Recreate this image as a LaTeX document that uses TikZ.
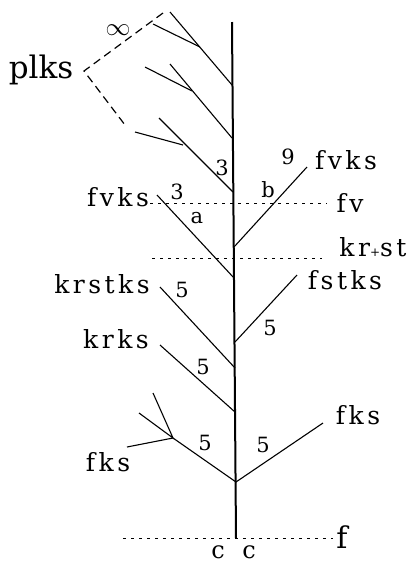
\documentclass[tikz,border=0pt]{standalone}
\usepackage{fontspec}
\setmainfont{DejaVu Serif}
\newfontfamily\lblfont[LetterSpace=14]{DejaVu Serif}
\begin{document}
\begin{tikzpicture}[x=1pt,y=-1pt,
  trunk/.style={line width=2pt},
  br/.style={line width=1.1pt},
  dotln/.style={line width=0.9pt,dash pattern=on 3pt off 5pt},
  dashln/.style={line width=1.2pt,dash pattern=on 8pt off 5pt},
  lbl/.style={inner sep=0pt,font=\fontsize{25}{25}\lblfont},
  num/.style={inner sep=0pt,font=\fontsize{21}{21}\selectfont},
]
\useasboundingbox (0,0) rectangle (415,566);
% trunk
\coordinate (T) at (232,22);
\coordinate (Tb) at (236,538);
\draw[trunk] (T) -- (Tb);
% top branches
\coordinate (J1) at (232,85);  \coordinate (E1) at (170,12);
\coordinate (F1) at (200,47);  \coordinate (S1) at (153,24);
\coordinate (J2) at (232,138); \coordinate (E2) at (170,64);
\coordinate (F2) at (192,91);  \coordinate (S2) at (145,67);
\coordinate (J3) at (233,192); \coordinate (E3) at (159,118);
\coordinate (F3) at (183,145); \coordinate (S3) at (135,132);
\draw[br] (J1) -- (E1); \draw[br] (F1) -- (S1);
\draw[br] (J2) -- (E2); \draw[br] (F2) -- (S2);
\draw[br] (J3) -- (E3); \draw[br] (F3) -- (S3);
% dashed bracket
\coordinate (D1) at (163,13);
\coordinate (D2) at (84,71);
\coordinate (D3) at (125,125);
\draw[dashln] (D1) -- (D2) -- (D3);
% b and a branches
\coordinate (Jb) at (234,247); \coordinate (Eb) at (307,167);
\coordinate (Ea) at (157,195); \coordinate (Ja) at (234,278);
\draw[br] (Jb) -- (Eb);
\draw[br] (Ea) -- (Ja);
% middle branches
\coordinate (Jfs) at (235,342); \coordinate (Efs) at (297,275);
\coordinate (Ekrs) at (160,287); \coordinate (Jkrs) at (235,368);
\coordinate (Ekr) at (160,345); \coordinate (Jkr) at (235,412);
\draw[br] (Jfs) -- (Efs);
\draw[br] (Ekrs) -- (Jkrs);
\draw[br] (Ekr) -- (Jkr);
% bottom V
\coordinate (V) at (236,482);
\coordinate (L) at (173,438);
\coordinate (L1) at (139,413);
\coordinate (L2) at (153,393);
\coordinate (L3) at (127,447);
\coordinate (R) at (323,423);
\draw[br] (L) -- (V) -- (R);
\draw[br] (L1) -- (L) -- (L2);
\draw[br] (L) -- (L3);
% dotted levels
\coordinate (fvA) at (150,203); \coordinate (fvB) at (327,203);
\coordinate (ksA) at (152,258); \coordinate (ksB) at (322,258);
\coordinate (fA) at (123,538);  \coordinate (fB) at (333,538);
\draw[dotln] (fvA) -- (fvB);
\draw[dotln] (ksA) -- (ksB);
\draw[dotln] (fA) -- (fB);
% labels
\node[lbl,font=\fontsize{31}{31}\selectfont] (plks) at (41,70) {plks};
\node[num,font=\fontsize{24}{24}\selectfont] (inf) at (118,30) {$\infty$};
\node[num] (n3a) at (222,168) {3};
\node[num] (n9) at (288,157) {9};
\node[lbl] (fvksR) at (346,160) {fvks};
\node[lbl] (fvksL) at (118,197) {fvks};
\node[num] (n3b) at (177,192) {3};
\node[num] (nb) at (268,190) {b};
\node[num] (na) at (197,218) {a};
\node[lbl] (fv) at (350,203) {fv};
\node[lbl] (krst) at (373,247) {kr{\fontsize{12}{12}\selectfont+}st};
\node[lbl] (krstks) at (102,284) {krstks};
\node[num] (n5a) at (182,290) {5};
\node[lbl] (fstks) at (345,280) {fstks};
\node[num] (n5b) at (270,328) {5};
\node[lbl] (krks) at (116,339) {krks};
\node[num] (n5c) at (203,367) {5};
\node[lbl] (fksR) at (358,415) {fks};
\node[lbl] (fksL) at (108,462) {fks};
\node[num] (n5d) at (205,443) {5};
\node[num] (n5e) at (263,445) {5};
\node[lbl,font=\fontsize{30}{30}\selectfont] (f) at (342,537) {f};
\node[lbl,font=\fontsize{24}{24}\selectfont] (c1) at (218,552) {c};
\node[lbl,font=\fontsize{24}{24}\selectfont] (c2) at (249,552) {c};
\end{tikzpicture}
\end{document}
